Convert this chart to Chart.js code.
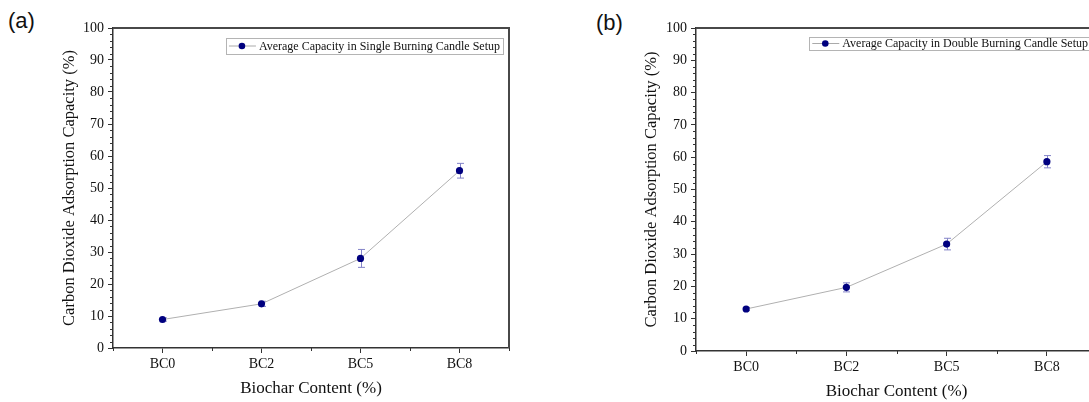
<!DOCTYPE html>
<html>
<head>
<meta charset="utf-8">
<script src="https://cdn.jsdelivr.net/npm/chart.js@4.4.1/dist/chart.umd.min.js"></script>
<style>
  html, body { margin: 0; padding: 0; background: #fff; overflow: hidden; width: 1089px; height: 402px; }
  .panel { position: absolute; top: 0; }
  .tag { position: absolute; font-family: "Liberation Sans", Arial, sans-serif; font-size: 22px; color: #111; }
</style>
</head>
<body>
<div class="tag" style="left:8px; top:8px;">(a)</div>
<div class="tag" style="left:596px; top:10px;">(b)</div>
<canvas id="chartA" class="panel" style="left:0px;" width="545" height="402"></canvas>
<canvas id="chartB" class="panel" style="left:590px;" width="543" height="402"></canvas>
<script>
// data
const categories = ['BC0', 'BC2', 'BC5', 'BC8'];
const singleMean = [8.9, 13.8, 28.0, 55.4];
const singleErr = [0.5, 0.8, 2.8, 2.3];
const doubleMean = [13.0, 19.7, 33.1, 58.6];
const doubleErr = [0.5, 1.4, 1.8, 1.9];
const yTicks = [0, 10, 20, 30, 40, 50, 60, 70, 80, 90, 100];

const serif = "'Liberation Serif', 'Times New Roman', serif";

// vertical error bars with caps, drawn under the points
const errorBars = {
    id: 'errorBars',
    beforeDatasetsDraw(chart, args, opts) {
        const ctx = chart.ctx, xs = chart.scales.x, ys = chart.scales.y;
        const means = chart.data.datasets[0].data;
        ctx.save();
        ctx.strokeStyle = '#8484c8';
        ctx.lineWidth = 1;
        opts.errors.forEach(function (e, i) {
            const px = Math.round(xs.getPixelForValue(i)) + 0.5;
            const t = ys.getPixelForValue(means[i] + e);
            const b = ys.getPixelForValue(means[i] - e);
            ctx.beginPath();
            ctx.moveTo(px, t); ctx.lineTo(px, b);
            ctx.moveTo(px - 3.5, t); ctx.lineTo(px + 3.5, t);
            ctx.moveTo(px - 3.5, b); ctx.lineTo(px + 3.5, b);
            ctx.stroke();
        });
        ctx.restore();
    }
};

// top / right frame and minor ticks
const frame = {
    id: 'frame',
    afterDraw(chart) {
        const ctx = chart.ctx, a = chart.chartArea, xs = chart.scales.x, ys = chart.scales.y;
        ctx.save();
        ctx.strokeStyle = '#484848';
        ctx.lineWidth = 2;
        ctx.beginPath();
        ctx.moveTo(a.left, a.top); ctx.lineTo(a.right, a.top); ctx.lineTo(a.right, a.bottom);
        ctx.stroke();
        ctx.strokeStyle = '#333';
        ctx.lineWidth = 1;
        ctx.beginPath();
        for (let v = 0; v <= 100; v += 2) {
            if (v % 10 === 0) continue;
            const py = Math.round(ys.getPixelForValue(v)) + 0.5;
            ctx.moveTo(a.left - 3, py); ctx.lineTo(a.left, py);
        }
        for (let i = -0.5; i < categories.length; i += 1) {
            const px = Math.round(xs.getPixelForValue(i)) + 0.5;
            ctx.moveTo(px, a.bottom); ctx.lineTo(px, a.bottom + 3);
        }
        ctx.stroke();
        ctx.restore();
    }
};

// boxed legend inside the plot, top right
const boxLegend = {
    id: 'boxLegend',
    afterDraw(chart, args, opts) {
        const ctx = chart.ctx, a = chart.chartArea;
        const ds = chart.data.datasets[0];
        ctx.save();
        ctx.font = '12px ' + serif;
        const tw = ctx.measureText(ds.label).width;
        const right = a.right - 6;
        const left = right - tw - 36;
        const top = a.top + opts.dy, h = opts.h;
        ctx.strokeStyle = '#b4b4b4';
        ctx.lineWidth = 1;
        ctx.strokeRect(Math.round(left) + 0.5, Math.round(top) + 0.5, Math.round(right - left), h);
        const my = top + h / 2 + 0.5;
        ctx.strokeStyle = '#aaa';
        ctx.beginPath();
        ctx.moveTo(left + 3, my); ctx.lineTo(left + 30, my);
        ctx.stroke();
        ctx.fillStyle = '#00007f';
        ctx.beginPath();
        ctx.arc(left + 16, my, 3.3, 0, Math.PI * 2);
        ctx.fill();
        ctx.fillStyle = '#111';
        ctx.textBaseline = 'middle';
        ctx.fillText(ds.label, left + 33, my + 0.5);
        ctx.restore();
    }
};

function makeChart(id, label, means, errs, dims) {
    return new Chart(id, {
        type: 'line',
        data: {
            labels: categories,
            datasets: [{
                label: label,
                data: means,
                borderColor: '#b0b0b0',
                borderWidth: 1,
                pointBackgroundColor: '#00007f',
                pointBorderColor: '#00007f',
                pointBorderWidth: 0,
                pointRadius: 3.6,
                tension: 0
            }]
        },
        options: {
            responsive: false,
            animation: false,
            layout: { padding: { left: 0, right: dims.padRight, top: 28, bottom: 0 } },
            plugins: {
                legend: { display: false },
                tooltip: { enabled: false },
                errorBars: { errors: errs },
                boxLegend: { dy: dims.legDy, h: dims.legH }
            },
            scales: {
                x: {
                    type: 'category',
                    offset: true,
                    afterFit: function (s) { s.height = dims.xHeight; },
                    border: { color: '#333', width: 1.5 },
                    grid: { drawOnChartArea: false, drawTicks: true, tickLength: 5, color: '#333', lineWidth: 1 },
                    ticks: { color: '#111', font: { family: serif, size: 14 }, padding: 3 },
                    title: { display: true, text: 'Biochar Content (%)', color: '#111',
                             font: { family: serif, size: 17 }, padding: { top: 0, bottom: dims.xTitlePad } }
                },
                y: {
                    min: 0,
                    max: 100,
                    afterFit: function (s) { s.width = dims.yWidth; },
                    afterBuildTicks: function (s) { s.ticks = yTicks.map(v => ({ value: v })); },
                    border: { color: '#333', width: 1.5 },
                    grid: { drawOnChartArea: false, drawTicks: true, tickLength: 5, color: '#333', lineWidth: 1 },
                    ticks: { color: '#111', font: { family: serif, size: 14 }, padding: 4 },
                    title: { display: true, text: 'Carbon Dioxide Adsorption Capacity (%)', color: '#111',
                             font: { family: serif, size: 16.5 }, padding: { top: dims.yTitlePad, bottom: 0 } }
                }
            }
        },
        plugins: [errorBars, frame, boxLegend]
    });
}

makeChart('chartA', 'Average Capacity in Single Burning Candle Setup', singleMean, singleErr,
    { padRight: 36, xHeight: 54, yWidth: 113, xTitlePad: 3, yTitlePad: 60, legDy: 9.5, legH: 16 });
makeChart('chartB', 'Average Capacity in Double Burning Candle Setup', doubleMean, doubleErr,
    { padRight: 36, xHeight: 51, yWidth: 106, xTitlePad: 0, yTitlePad: 52, legDy: 8.5, legH: 13 });
</script>
</body>
</html>
